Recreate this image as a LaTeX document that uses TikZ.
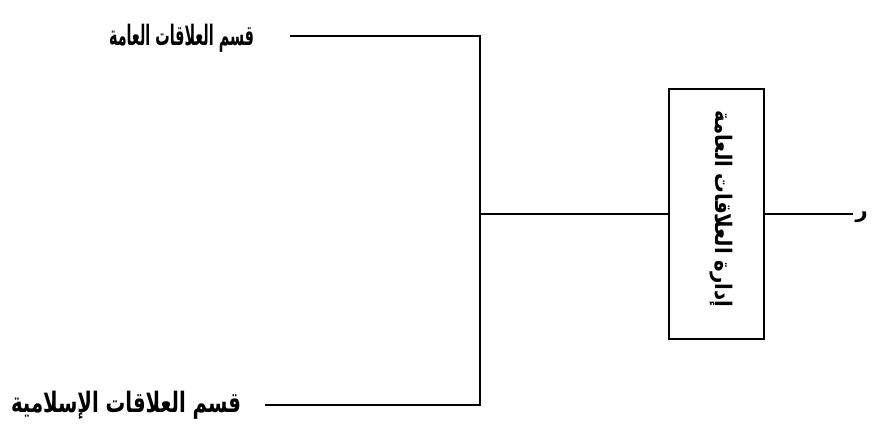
\documentclass[tikz,border=0pt]{standalone}
\usepackage{fontspec}
\usepackage{tikz}
\TeXXeTstate=1
\newfontfamily\arabicfont[Script=Arabic]{DejaVu Sans}
\newcommand{\fitar}[2]{\resizebox{#1}{\height}{#2}}
\tikzset{
  label/.style={font=\arabicfont\bfseries\fontsize{16}{18}\selectfont, inner sep=0pt},
  dept/.style={draw, line width=1.1pt, minimum width=1.9cm, minimum height=5cm}
}
\begin{document}
\begin{tikzpicture}[x=0.02cm, y=0.02cm, line width=1.1pt]
\useasboundingbox (0,0) rectangle (879,431);
% branches on the left
\coordinate (topend) at (290,395); \coordinate (topcorner) at (480,395);
\coordinate (botend) at (265,26); \coordinate (botcorner) at (480,26);
\coordinate (junction) at (480,217);
\node[label, anchor=east] (pr) at (255,393) {\fitar{2.9cm}{\beginR قسم العلاقات العامة\endR}};
\node[label, anchor=east] (ir) at (242,26) {\fitar{4.6cm}{\beginR قسم العلاقات الإسلامية\endR}};
\draw (topend) -- (topcorner) -- (botcorner) -- (botend);
% the department box
\node[dept] (mgmt) at (716.5,217) {};
\node[label, rotate=-90, font=\arabicfont\bfseries\fontsize{13}{15}\selectfont] (mgmtname) at (721,222)
  {\fitar{3.94cm}{\beginR إدارة العلاقات العامة\endR}};
\draw (junction) -- (mgmt);
\coordinate (tail) at (853,217);
\draw (mgmt) -- (tail);
\node[label, anchor=west, inner sep=1pt, font=\arabicfont\bfseries\fontsize{12}{14}\selectfont] (cut) at (853,214) {\beginR ر\endR};
\end{tikzpicture}
\end{document}
